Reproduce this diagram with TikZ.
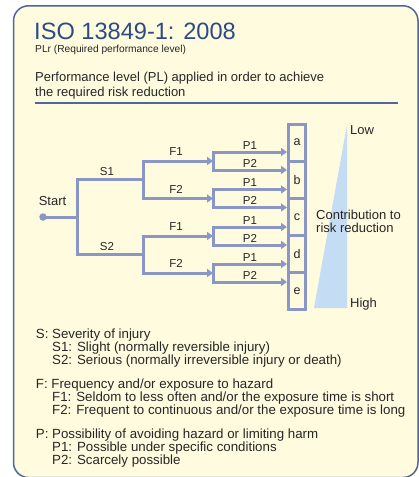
\documentclass[tikz,border=0pt]{standalone}
\usepackage{fontspec}
\setmainfont{Liberation Sans}
\usetikzlibrary{arrows.meta}
\begin{document}
\begin{tikzpicture}[x=1pt,y=-1pt,
  branch/.style={draw=treeline,line width=3pt,line cap=rect},
  tipline/.style={draw=treeline,line width=3pt,-{Triangle[length=6pt,width=8pt]}},
  lbl/.style={text=ink,font=\fontsize{13}{13}\selectfont,inner sep=0pt,anchor=base},
  sublbl/.style={text=ink,font=\fontsize{11.5}{11.5}\selectfont,inner sep=0pt,anchor=base},
  legend/.style={text=ink,font=\fontsize{13.3}{13.3}\selectfont,inner sep=0pt,anchor=base west},
  plbox/.style={draw=treeline,line width=3pt,minimum width=17pt,minimum height=37.1pt,inner sep=0pt,text=ink,font=\fontsize{12.5}{12.5}\selectfont}]
\definecolor{paper}{HTML}{FFFBDF}
\definecolor{rim}{HTML}{52669A}
\definecolor{treeline}{HTML}{8A96C6}
\definecolor{titleblue}{HTML}{2C4B85}
\definecolor{wedge}{HTML}{C4DCF4}
\definecolor{ink}{HTML}{262626}
\useasboundingbox (0,0) rectangle (419,477);
\draw [rim,fill=paper,line width=1.5pt,rounded corners=15pt] (13.5,5.8) rectangle (418,477.5);
\node [anchor=base west,inner sep=0pt,text=titleblue,font=\fontsize{23.6}{23.6}\selectfont] (title) at (34,39) {ISO 13849-1: 2008};
\node [anchor=base west,inner sep=0pt,text=ink,font=\fontsize{10.2}{10.2}\selectfont] (subtitle) at (35,52) {PLr (Required performance level)};
\node [legend,font=\fontsize{13}{13}\selectfont] (head1) at (35,81) {Performance level (PL) applied in order to achieve};
\node [legend,font=\fontsize{13}{13}\selectfont] (head2) at (35,96) {the required risk reduction};
\draw [rim,line width=1.2pt] (35,103) -- (398,103);
\fill [wedge] (347,125) -- (314,308) -- (347,308) -- cycle;
\node [lbl,anchor=base west] (low) at (350,134) {Low};
\node [lbl,anchor=base west] (high) at (350,307) {High};
\node [lbl,anchor=base west] (contrib1) at (316,219) {Contribution to};
\node [lbl,anchor=base west] (contrib2) at (316,232) {risk reduction};
\foreach \b/\l in {1/a,2/b,3/c,4/d,5/e}
  {\node [plbox] (b\b) at (297,{124+37.1*(\b-0.5)}) {\l};}
\node [circle,fill=treeline,minimum size=7.5pt,inner sep=0pt] (start) at (43,217) {};
\node [lbl] (startlbl) at (52.5,205) {Start};
\coordinate (sj) at (77,217);
\coordinate (s1) at (77,179.75);
\coordinate (s2) at (77,254.5);
\coordinate (fj1) at (143,179.75);
\coordinate (fj2) at (143,254.5);
\draw [branch] (start) -- (sj);
\draw [branch] (fj1) -- (s1) -- (s2) -- (fj2);
\node [sublbl] (s1lbl) at (107,175) {S1};
\node [sublbl] (s2lbl) at (107,250) {S2};
\draw [branch] (143,161) -- (143,198.5);
\draw [branch] (143,236) -- (143,273);
\foreach \r/\ry/\f/\n in {1/161/F1/2,2/198.5/F2/3,3/236/F1/4,4/273/F2/5}
{
  \coordinate (f\r) at (143,\ry);
  \coordinate (pm\r) at (213,\ry);
  \coordinate (pa\r) at (213,\ry-9);
  \coordinate (pb\r) at (213,\ry+9);
  \draw [tipline] (f\r) -- (pm\r);
  \draw [branch] (pa\r) -- (pb\r);
  \draw [tipline] (pa\r) -- (pa\r -| b\r.west);
  \draw [tipline] (pb\r) -- (pb\r -| b\n.west);
  \node [sublbl] (fl\r) at (176,\ry-5.3) {\f};
  \node [sublbl] (pone\r) at (250,\ry-12) {P1};
  \node [sublbl] (ptwo\r) at (250,\ry+6) {P2};
}
\foreach \i/\lx/\ly/\t in {1/35.7/338/{S: Severity of injury},
  2/52/351.3/{S1: Slight (normally reversible injury)},
  3/52/364.6/{S2: Serious (normally irreversible injury or death)},
  4/35.7/388/{F: Frequency and/or exposure to hazard},
  5/52/401.3/{F1: Seldom to less often and/or the exposure time is short},
  6/52/414.6/{F2: Frequent to continuous and/or the exposure time is long},
  7/35.7/438/{P: Possibility of avoiding hazard or limiting harm},
  8/52/451.3/{P1: Possible under specific conditions},
  9/52/464.6/{P2: Scarcely possible}}
  {\node [legend] (leg\i) at (\lx,\ly) {\t};}
\end{tikzpicture}
\end{document}
